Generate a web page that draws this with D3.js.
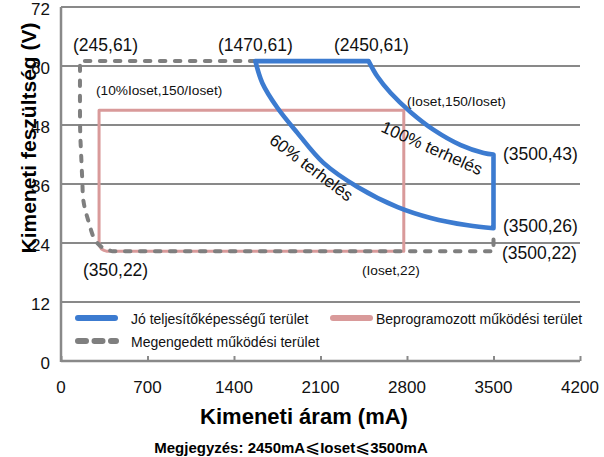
<!DOCTYPE html>
<html>
<head>
<meta charset="utf-8">
<script src="https://cdn.jsdelivr.net/npm/d3@7"></script>
<style>
  body { margin: 0; background: #fff; }
  svg { display: block; font-family: "Liberation Sans", Arial, sans-serif; }
</style>
</head>
<body>
<div id="viz"></div>
<script>
// values (mA, V)
const xTicks = [0, 700, 1400, 2100, 2800, 3500, 4200];
const yTicks = [0, 12, 24, 36, 48, 60, 72];

const goodTop = [[1573, 61], [2489, 61]];
const goodOuter = [[2489, 61], [2562, 57.8], [2668, 54.5], [2830, 50.6], [3016, 47], [3235, 43.9], [3420, 42.3], [3500, 42]];
const goodRight = [[3500, 42], [3500, 27]];
const goodInner = [[3500, 27], [3292, 27.6], [2992, 29.1], [2724, 31.3], [2400, 35.4], [2124, 40.3], [1913, 46.4], [1751, 51.5], [1630, 56.5], [1573, 61]];

const allowTop = [[1573, 61], [154, 61]];
const allowCurve = [[154, 61], [155, 47], [163, 42], [172, 37], [182, 32.5], [219, 28.7], [276, 24.6], [340, 23], [420, 22.3]];
const allowBottom = [[420, 22.3], [3500, 22.3], [3500, 26]];

const progArea = [[2774, 22.3], [2774, 51], [308, 51], [308, 24.1], [313, 23.4], [327, 22.8], [348, 22.5], [373, 22.3], [2774, 22.3]];

const pointLabels = [
  { t: '(245,61)', x: 73, y: 51 },
  { t: '(1470,61)', x: 218, y: 51 },
  { t: '(2450,61)', x: 334, y: 51 },
  { t: '(3500,43)', x: 503, y: 160 },
  { t: '(3500,26)', x: 503, y: 232 },
  { t: '(3500,22)', x: 502, y: 259 },
  { t: '(350,22)', x: 83, y: 276 }
];
const smallLabels = [
  { t: '(10%Ioset,150/Ioset)', x: 96, y: 94.5 },
  { t: '(Ioset,150/Ioset)', x: 407, y: 106 },
  { t: '(Ioset,22)', x: 362, y: 275 }
];

const legendItems = [
  { name: 'Jó teljesítőképességű terület', color: '#3c7bd0', dash: null, x: 78, y: 318 },
  { name: 'Beprogramozott működési terület', color: '#d99a9a', dash: null, x: 333, y: 318 },
  { name: 'Megengedett működési terület', color: '#7f7f7f', dash: '8,8.5', x: 78, y: 341 }
];

const svg = d3.select('#viz').append('svg')
  .attr('width', 604).attr('height', 457);

const x = d3.scaleLinear().domain([0, 4200]).range([61, 580]);
const y = d3.scaleLinear().domain([0, 72]).range([361, 7]);

const grid = '#898989';

// y title first, tick labels sit on top of it
svg.append('text')
  .attr('transform', 'rotate(-90)')
  .attr('x', -138).attr('y', 36)
  .attr('text-anchor', 'middle').attr('font-size', '21px').attr('font-weight', 'bold')
  .attr('fill', '#000')
  .text('Kimeneti feszültség (V)');

// gridlines
svg.append('g').selectAll('line').data(yTicks.filter(d => d > 0)).join('line')
  .attr('x1', x(0)).attr('x2', x(4200))
  .attr('y1', d => y(d)).attr('y2', d => y(d))
  .attr('stroke', grid).attr('stroke-width', 2.2);

// axes
const xAxis = svg.append('g').attr('transform', `translate(0,${y(0)})`)
  .call(d3.axisTop(x).tickValues(xTicks).tickSize(5).tickFormat(''));
xAxis.select('.domain').attr('stroke', grid).attr('stroke-width', 2.5).attr('d', `M${x(0)},0H${x(4200)}`);
xAxis.selectAll('.tick line').attr('stroke', grid).attr('stroke-width', 2);

svg.append('line')
  .attr('x1', x(0)).attr('x2', x(0)).attr('y1', y(72)).attr('y2', y(0) + 1)
  .attr('stroke', grid).attr('stroke-width', 2.5);

svg.append('g').selectAll('text').data(xTicks).join('text')
  .attr('x', d => x(d)).attr('y', 393)
  .attr('text-anchor', 'middle').attr('font-size', '17px').attr('fill', '#111')
  .text(d => d);

svg.append('g').selectAll('text').data(yTicks).join('text')
  .attr('x', 50).attr('y', d => y(d) + 2).attr('dy', '0.35em')
  .attr('text-anchor', 'end').attr('font-size', '17px').attr('fill', '#111')
  .text(d => d);

// join several line pieces into one continuous path
function joined(parts) {
  return parts.map((p, i) => {
    const s = d3.line().x(d => x(d[0])).y(d => y(d[1])).curve(p.curve)(p.pts);
    return i ? 'L' + s.slice(1) : s;
  }).join('');
}

// programmed area
svg.append('path')
  .attr('d', joined([{ pts: progArea, curve: d3.curveLinear }]) + 'Z')
  .attr('fill', 'none').attr('stroke', '#d99a9a').attr('stroke-width', 3)
  .attr('stroke-linejoin', 'round');

// allowed area
svg.append('path')
  .attr('d', joined([
    { pts: allowTop, curve: d3.curveLinear },
    { pts: allowCurve, curve: d3.curveCatmullRom.alpha(0.5) },
    { pts: allowBottom, curve: d3.curveLinear }
  ]))
  .attr('fill', 'none').attr('stroke', '#7f7f7f').attr('stroke-width', 4)
  .attr('stroke-dasharray', '5.5,9.5').attr('stroke-linecap', 'round');

// good performance area
svg.append('path')
  .attr('d', joined([
    { pts: goodTop, curve: d3.curveLinear },
    { pts: goodOuter, curve: d3.curveCatmullRom.alpha(0.5) },
    { pts: goodRight, curve: d3.curveLinear },
    { pts: goodInner, curve: d3.curveCatmullRom.alpha(0.5) }
  ]) + 'Z')
  .attr('fill', 'none').attr('stroke', '#3c7bd0').attr('stroke-width', 4.6)
  .attr('stroke-linejoin', 'round');

// labels
svg.append('g').selectAll('text').data(pointLabels).join('text')
  .attr('x', d => d.x).attr('y', d => d.y)
  .attr('font-size', '17.5px').attr('fill', '#111')
  .text(d => d.t);

svg.append('g').selectAll('text').data(smallLabels).join('text')
  .attr('x', d => d.x).attr('y', d => d.y)
  .attr('font-size', '13.7px').attr('fill', '#111')
  .text(d => d.t);

svg.append('text')
  .attr('transform', 'translate(432,148) rotate(24)')
  .attr('text-anchor', 'middle').attr('dy', '0.35em')
  .attr('font-size', '17px').attr('fill', '#111')
  .text('100% terhelés');

svg.append('text')
  .attr('transform', 'translate(311.5,167.5) rotate(37)')
  .attr('text-anchor', 'middle').attr('dy', '0.35em')
  .attr('font-size', '17px').attr('fill', '#111')
  .text('60% terhelés');

// legend
const lg = svg.append('g').selectAll('g').data(legendItems).join('g')
  .attr('transform', d => `translate(${d.x},${d.y})`);
lg.append('line')
  .attr('x1', 0).attr('x2', d => d.dash ? 38 : 37)
  .attr('stroke', d => d.color).attr('stroke-width', 6)
  .attr('stroke-linecap', 'round')
  .attr('stroke-dasharray', d => d.dash);
lg.append('text')
  .attr('x', d => d.x === 78 ? 53 : 43).attr('y', 5.5)
  .attr('font-size', '14px').attr('fill', '#111')
  .text(d => d.name);

// titles
svg.append('text')
  .attr('x', 304).attr('y', 424)
  .attr('text-anchor', 'middle').attr('font-size', '22px').attr('font-weight', 'bold')
  .attr('fill', '#000')
  .text('Kimeneti áram (mA)');

const note = svg.append('text')
  .attr('x', 291).attr('y', 453)
  .attr('text-anchor', 'middle').attr('font-size', '15px').attr('font-weight', 'bold')
  .attr('fill', '#000');
note.append('tspan').text('Megjegyzés:  2450mA');
note.append('tspan').attr('font-weight', 'normal').attr('font-size', '18px').text('⩽');
note.append('tspan').text('Ioset');
note.append('tspan').attr('font-weight', 'normal').attr('font-size', '18px').text('⩽');
note.append('tspan').text('3500mA');
</script>
</body>
</html>
